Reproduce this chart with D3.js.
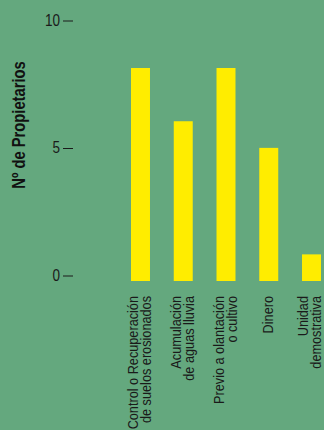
<!DOCTYPE html>
<html><head><meta charset="utf-8">
<script src="https://cdn.jsdelivr.net/npm/d3@7"></script>
<style>html,body{margin:0;padding:0;background:#64a87e;}svg{display:block;}</style>
</head><body>
<svg id="chart" width="324" height="430"></svg>
<script>
const categories = [
  ["Control o Recuperación", "de suelos erosionados"],
  ["Acumulación", "de aguas lluvia"],
  ["Previo a olantación", "o cultivo"],
  ["Dinero"],
  ["Unidad", "demostrativa"]
];
const values = [8, 6, 8, 5, 1];
const tickValues = [0, 5, 10];
const yTitle = "Nº de Propietarios";

const svg = d3.select("#chart");
const W = 324, H = 430, SX = 0.82;
svg.append("rect").attr("width", W).attr("height", H).attr("fill", "#64a87e");

const x = d3.scaleBand().domain(d3.range(categories.length))
  .range([131, 321]).paddingInner(0.556).paddingOuter(0).align(0);
const y = d3.scaleLinear().domain([0, 10]).range([281, 14.75]);
const yAxisScale = d3.scaleLinear().domain([0, 10]).range([275, 20]);

// bars
svg.append("g").selectAll("rect").data(values).join("rect")
  .attr("x", (d, i) => x(i)).attr("width", x.bandwidth())
  .attr("y", d => y(d)).attr("height", d => y(0) - y(d))
  .attr("fill", "#ffed00");

// y axis ticks (text + dash)
const tk = svg.append("g").selectAll("g").data(tickValues).join("g")
  .attr("transform", d => `translate(0,${yAxisScale(d)})`);
tk.append("text").attr("transform", `translate(60,0) scale(${SX},1)`)
  .attr("text-anchor", "end").attr("dy", "0.36em")
  .attr("font-family", "Liberation Sans, Arial, sans-serif").attr("font-size", 16.5)
  .attr("fill", "#1a1a1a").text(d => d);
tk.append("line").attr("x1", 63).attr("x2", 73).attr("y1", 1).attr("y2", 1)
  .attr("stroke", "#1a1a1a").attr("stroke-width", 1);

// y title
svg.append("g").attr("transform", "translate(25,125) rotate(-90)")
  .append("text").attr("transform", `scale(${SX},1)`)
  .attr("text-anchor", "middle").attr("font-family", "Liberation Sans, Arial, sans-serif")
  .attr("font-weight", "bold").attr("font-size", 18).attr("fill", "#111").text(yTitle);

// category labels
const lineH = 13;
const lab = svg.append("g").selectAll("g").data(categories).join("g")
  .attr("transform", (d, i) => {
    const c = x(i) + x.bandwidth() / 2;
    let base = c + 4.5 - (d.length - 1) * lineH / 2;
    const last = base + (d.length - 1) * lineH;
    if (last > W - 3) base -= last - (W - 3);
    return `translate(${base},296) rotate(-90)`;
  });
lab.append("text").attr("transform", `scale(${SX},1)`)
  .attr("text-anchor", "end").attr("font-family", "Liberation Sans, Arial, sans-serif")
  .attr("font-size", 15.5).attr("fill", "#1a1a1a")
  .selectAll("tspan").data(d => d).join("tspan")
  .attr("x", 0).attr("y", (d, j) => j * lineH).text(d => d);
</script>
</body></html>
